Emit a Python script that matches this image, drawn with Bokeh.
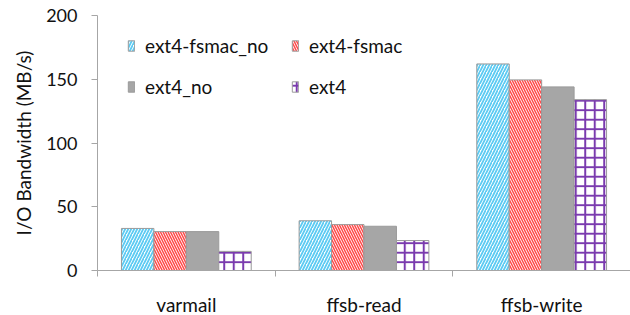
from bokeh.plotting import figure
from bokeh.models import Range1d, FixedTicker, Legend, LegendItem, ColumnDataSource
from bokeh.transform import dodge
from bokeh.embed import file_html
from bokeh.resources import INLINE

categories = ["varmail", "ffsb-read", "ffsb-write"]
series = ["ext4-fsmac_no", "ext4-fsmac", "ext4_no", "ext4"]
ext4_fsmac_no = [33, 39, 162]
ext4_fsmac = [30.5, 36, 149.5]
ext4_no = [30.5, 34.7, 144]
ext4 = [15, 23.5, 134]
y_ticks = [0, 50, 100, 150, 200]

values = [ext4_fsmac_no, ext4_fsmac, ext4_no, ext4]
centers = [i + 0.5 for i in range(len(categories))]
bounds = [float(i) for i in range(len(categories) + 1)]

FONT = "Lato"
GRAY = "#a6a6a6"

p = figure(frame_width=533, frame_height=255, output_backend="svg", toolbar_location=None,
           x_range=Range1d(0, len(categories)), y_range=Range1d(0, 200),
           min_border_left=97, min_border_right=0, min_border_top=15, min_border_bottom=20)
p.outline_line_color = None
p.xgrid.visible = False
p.ygrid.visible = False

styles = [
    dict(fill_color="white", hatch_pattern="/", hatch_color="#5ccbf3", hatch_scale=6, hatch_weight=1.8),
    dict(fill_color="white", hatch_pattern="\\", hatch_color="#ff4a4a", hatch_scale=5, hatch_weight=1.5),
    dict(fill_color="#a6a6a6"),
    dict(fill_color="white", hatch_pattern="+", hatch_color="#7a3aae", hatch_scale=9.5, hatch_weight=2),
]

w = 0.1826
renderers = []
for k, (name, vals, st) in enumerate(zip(series, values, styles)):
    src = ColumnDataSource(dict(x=centers, top=vals))
    r = p.vbar(x=dodge("x", (k - 1.5) * w), top="top", width=w, bottom=0, source=src,
               line_color="#9a9a9a", line_width=1, **st)
    renderers.append(LegendItem(label=name, renderers=[r]))

# two columns filled column-wise: order so rows read (fsmac_no, fsmac), (ext4_no, ext4)
items = [renderers[0], renderers[2], renderers[1], renderers[3]]
legend = Legend(items=items, ncols=2, location=(30, 172))
legend.border_line_color = None
legend.background_fill_alpha = 0
legend.padding = 0
legend.margin = 0
legend.spacing = 18
legend.glyph_width = 8
legend.glyph_height = 13
legend.label_standoff = 10
legend.label_width = 128
legend.label_text_font = FONT
legend.label_text_font_size = "19px"
legend.label_text_color = "#111111"
p.add_layout(legend, "center")

ya = p.yaxis[0]
ya.ticker = FixedTicker(ticks=y_ticks)
ya.axis_line_color = GRAY
ya.major_tick_line_color = GRAY
ya.major_tick_out = 6
ya.major_tick_in = 0
ya.minor_tick_line_color = None
ya.major_label_standoff = 14
ya.major_label_text_font = FONT
ya.major_label_text_font_size = "18px"
ya.major_label_text_color = "#111111"
ya.axis_label = "I/O Bandwidth (MB/s)"
ya.axis_label_text_font = FONT
ya.axis_label_text_font_size = "19px"
ya.axis_label_text_font_style = "normal"
ya.axis_label_text_color = "#111111"
ya.axis_label_standoff = 8

xa = p.xaxis[0]
xa.ticker = FixedTicker(ticks=centers, minor_ticks=bounds)
xa.major_label_overrides = {c: lab for c, lab in zip(centers, categories)}
xa.axis_line_color = GRAY
xa.major_tick_line_color = None
xa.major_tick_out = 0
xa.major_tick_in = 0
xa.minor_tick_line_color = GRAY
xa.minor_tick_out = 6
xa.minor_tick_in = 0
xa.major_label_standoff = 16
xa.major_label_text_font = FONT
xa.major_label_text_font_size = "19px"
xa.major_label_text_color = "#111111"

open("out.html", "w").write(file_html(p, INLINE))
